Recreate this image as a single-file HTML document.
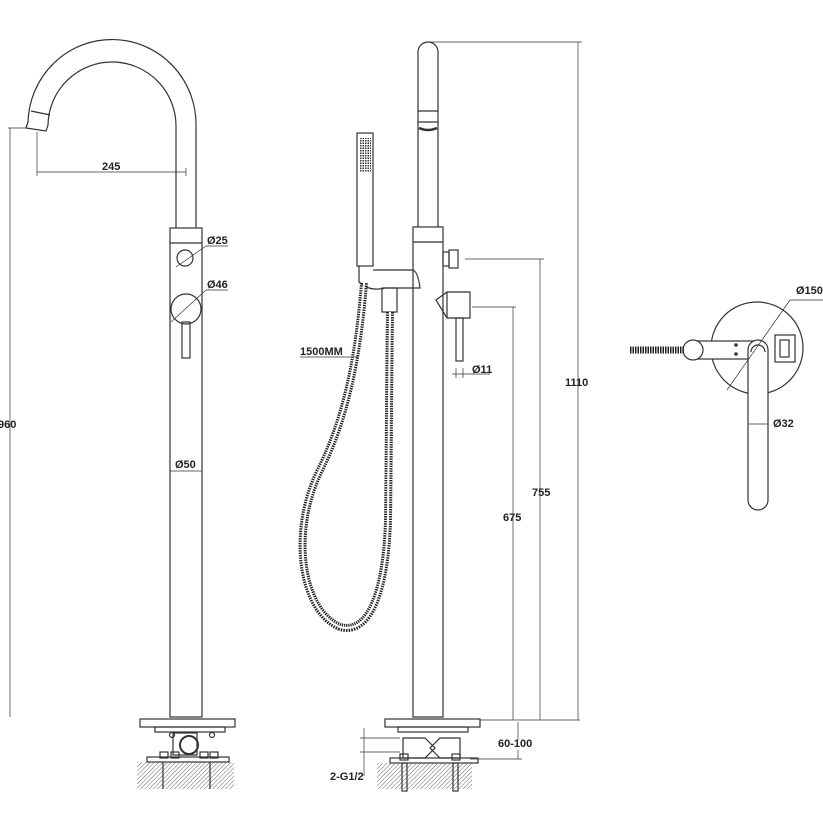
<!DOCTYPE html>
<html><head><meta charset="utf-8"><style>
html,body{margin:0;padding:0;background:#fff;}
svg{display:block;}
text{font-family:"Liberation Sans",sans-serif;font-weight:bold;font-size:11px;fill:#222;}
</style></head><body>
<svg width="823" height="823" viewBox="0 0 823 823" xmlns="http://www.w3.org/2000/svg">
<defs>
<pattern id="h" width="3" height="3" patternUnits="userSpaceOnUse" patternTransform="rotate(45)">
<line x1="0" y1="0" x2="0" y2="3" stroke="#555" stroke-width="0.9"/>
</pattern>
<pattern id="g" width="2.5" height="2.5" patternUnits="userSpaceOnUse">
<rect x="0" y="0" width="1.5" height="1.5" fill="#333"/>
</pattern>
</defs>
<g fill="none" stroke="#333" stroke-width="1.2">
<!-- LEFT FAUCET -->
<path d="M196,228 L196,127 A84,85 0 0 0 28,122 L26,128 L46,131 L48,125 A64,64 0 0 1 176,127 L176,228"/>
<line x1="31" y1="111" x2="50" y2="115"/>
<rect x="170" y="228" width="32" height="489"/>
<line x1="170" y1="243" x2="202" y2="243"/>
<circle cx="185" cy="258" r="8"/>
<line x1="176" y1="267" x2="206" y2="246" stroke-width="0.7"/>
<line x1="206" y1="246" x2="228" y2="246" stroke-width="0.7"/>
<circle cx="186" cy="309" r="15"/>
<line x1="171" y1="322" x2="206" y2="290" stroke-width="0.7"/>
<line x1="206" y1="290" x2="228" y2="290" stroke-width="0.7"/>
<rect x="182" y="322" width="8" height="36"/>
<line x1="37" y1="132" x2="37" y2="176" stroke-width="0.7"/>
<line x1="37" y1="172" x2="186" y2="172" stroke-width="0.7"/>
<line x1="186" y1="168" x2="186" y2="176" stroke-width="0.7"/>
<line x1="8" y1="128" x2="27" y2="128" stroke-width="0.7"/>
<line x1="10" y1="128" x2="10" y2="717" stroke-width="0.7"/>
<line x1="170" y1="471" x2="202" y2="471" stroke-width="0.7"/>
<rect x="140" y="719" width="95" height="8"/>
<rect x="155" y="727" width="70" height="5"/>
<circle cx="172" cy="735" r="2.5"/><circle cx="212" cy="735" r="2.5"/>
<rect x="173" y="733" width="24" height="22"/>
<circle cx="189" cy="745" r="9" stroke-width="2"/>
<rect x="160" y="752" width="8" height="6"/><rect x="200" y="752" width="8" height="6"/>
<rect x="210" y="752" width="8" height="6"/><rect x="171" y="752" width="8" height="6"/>
<rect x="147" y="757" width="82" height="5"/>
<rect x="137" y="762" width="97" height="27" fill="url(#h)" stroke="none"/>
<line x1="163" y1="762" x2="163" y2="789"/><line x1="210" y1="762" x2="210" y2="789"/>

<!-- MIDDLE -->
<path d="M418,227 L418,52 A10,10 0 0 1 438,52 L438,227"/>
<line x1="418" y1="111" x2="438" y2="111"/>
<line x1="418" y1="122" x2="438" y2="122"/>
<path d="M419,128 Q428,132 437,128" stroke-width="2.5"/>
<rect x="413" y="227" width="30" height="490"/>
<line x1="413" y1="242" x2="443" y2="242"/>
<rect x="443" y="252" width="6" height="14"/>
<rect x="449" y="250" width="9" height="18"/>
<path d="M436,300 L447,292 L470,292 L470,318 L447,318 Z"/>
<line x1="447" y1="292" x2="447" y2="318"/>
<rect x="456" y="318" width="7" height="43"/>
<rect x="357" y="133" width="16" height="133"/>
<rect x="360" y="138" width="11" height="34" fill="url(#g)" stroke="none"/>
<path d="M359,266 L359,282 Q370,292 385,288 L420,288 Q418,272 413,270 L373,270"/>
<rect x="382" y="288" width="15" height="24"/>
<path d="M364,283 C358,360 345,420 320,470 C290,530 300,610 340,627 C370,635 386,590 388,520 C389,440 389,380 390,312" stroke="#222" stroke-width="8" stroke-dasharray="1.4 1"/>
<path d="M364,283 C358,360 345,420 320,470 C290,530 300,610 340,627 C370,635 386,590 388,520 C389,440 389,380 390,312" stroke="#fff" stroke-width="2"/>
<line x1="300" y1="357" x2="358" y2="357" stroke-width="0.7"/>
<line x1="430" y1="42" x2="582" y2="42" stroke-width="0.7"/>
<line x1="578" y1="42" x2="578" y2="720" stroke-width="0.7"/>
<line x1="465" y1="259" x2="544" y2="259" stroke-width="0.7"/>
<line x1="540" y1="259" x2="540" y2="720" stroke-width="0.7"/>
<line x1="472" y1="307" x2="516" y2="307" stroke-width="0.7"/>
<line x1="513" y1="307" x2="513" y2="720" stroke-width="0.7"/>
<line x1="456" y1="368" x2="456" y2="378" stroke-width="0.7"/>
<line x1="463" y1="368" x2="463" y2="378" stroke-width="0.7"/>
<line x1="452" y1="374" x2="490" y2="374" stroke-width="0.7"/>
<line x1="480" y1="720" x2="580" y2="720" stroke-width="0.7"/>
<line x1="470" y1="759" x2="522" y2="759" stroke-width="0.7"/>
<line x1="518" y1="722" x2="518" y2="740" stroke-width="0.7"/>
<line x1="518" y1="750" x2="518" y2="759" stroke-width="0.7"/>
<line x1="364" y1="728" x2="364" y2="776" stroke-width="0.7"/>
<line x1="360" y1="738" x2="400" y2="738" stroke-width="0.7"/>
<line x1="360" y1="752" x2="400" y2="752" stroke-width="0.7"/>
<rect x="385" y="719" width="95" height="8"/>
<rect x="398" y="727" width="70" height="5"/>
<path d="M403,738 L425,738 L435,748 L425,758 L403,758 Z"/>
<path d="M460,738 L440,738 L430,748 L440,758 L460,758 Z"/>
<rect x="400" y="754" width="8" height="6"/><rect x="452" y="754" width="8" height="6"/>
<rect x="390" y="758" width="88" height="5"/>
<rect x="377" y="763" width="95" height="26" fill="url(#h)" stroke="none"/>
<rect x="402" y="763" width="5" height="28"/><rect x="453" y="763" width="5" height="28"/>

<!-- RIGHT VIEW -->
<circle cx="757" cy="348" r="46"/>
<rect x="694" y="341" width="64" height="18" fill="#fff"/>
<circle cx="693" cy="350" r="10" fill="#fff"/>
<line x1="630" y1="350" x2="684" y2="350" stroke="#222" stroke-width="7" stroke-dasharray="1.5 1"/>
<circle cx="736" cy="345" r="1.2" fill="#333"/><circle cx="736" cy="354" r="1.2" fill="#333"/>
<rect x="775" y="335" width="20" height="27" fill="#fff"/>
<rect x="780" y="340" width="9" height="17"/>
<path d="M748,350 A10,10 0 0 1 768,350 L768,500 A10,10 0 0 1 748,500 Z" fill="#fff"/>
<path d="M751,352 A7,7 0 0 1 765,352"/>
<line x1="727" y1="390" x2="790" y2="300" stroke-width="0.7"/>
<line x1="790" y1="300" x2="823" y2="300" stroke-width="0.7"/>
<line x1="748" y1="424" x2="768" y2="424" stroke-width="0.7"/>
</g>
<text x="102" y="170">245</text>
<text x="-2" y="428">960</text>
<text x="207" y="244">Ø25</text>
<text x="207" y="288">Ø46</text>
<text x="175" y="468">Ø50</text>
<text x="300" y="355">1500MM</text>
<text x="472" y="373">Ø11</text>
<text x="565" y="386">1110</text>
<text x="532" y="496">755</text>
<text x="503" y="521">675</text>
<text x="498" y="747">60-100</text>
<text x="330" y="780">2-G1/2</text>
<text x="796" y="294">Ø150</text>
<text x="773" y="427">Ø32</text>
</svg>
</body></html>
